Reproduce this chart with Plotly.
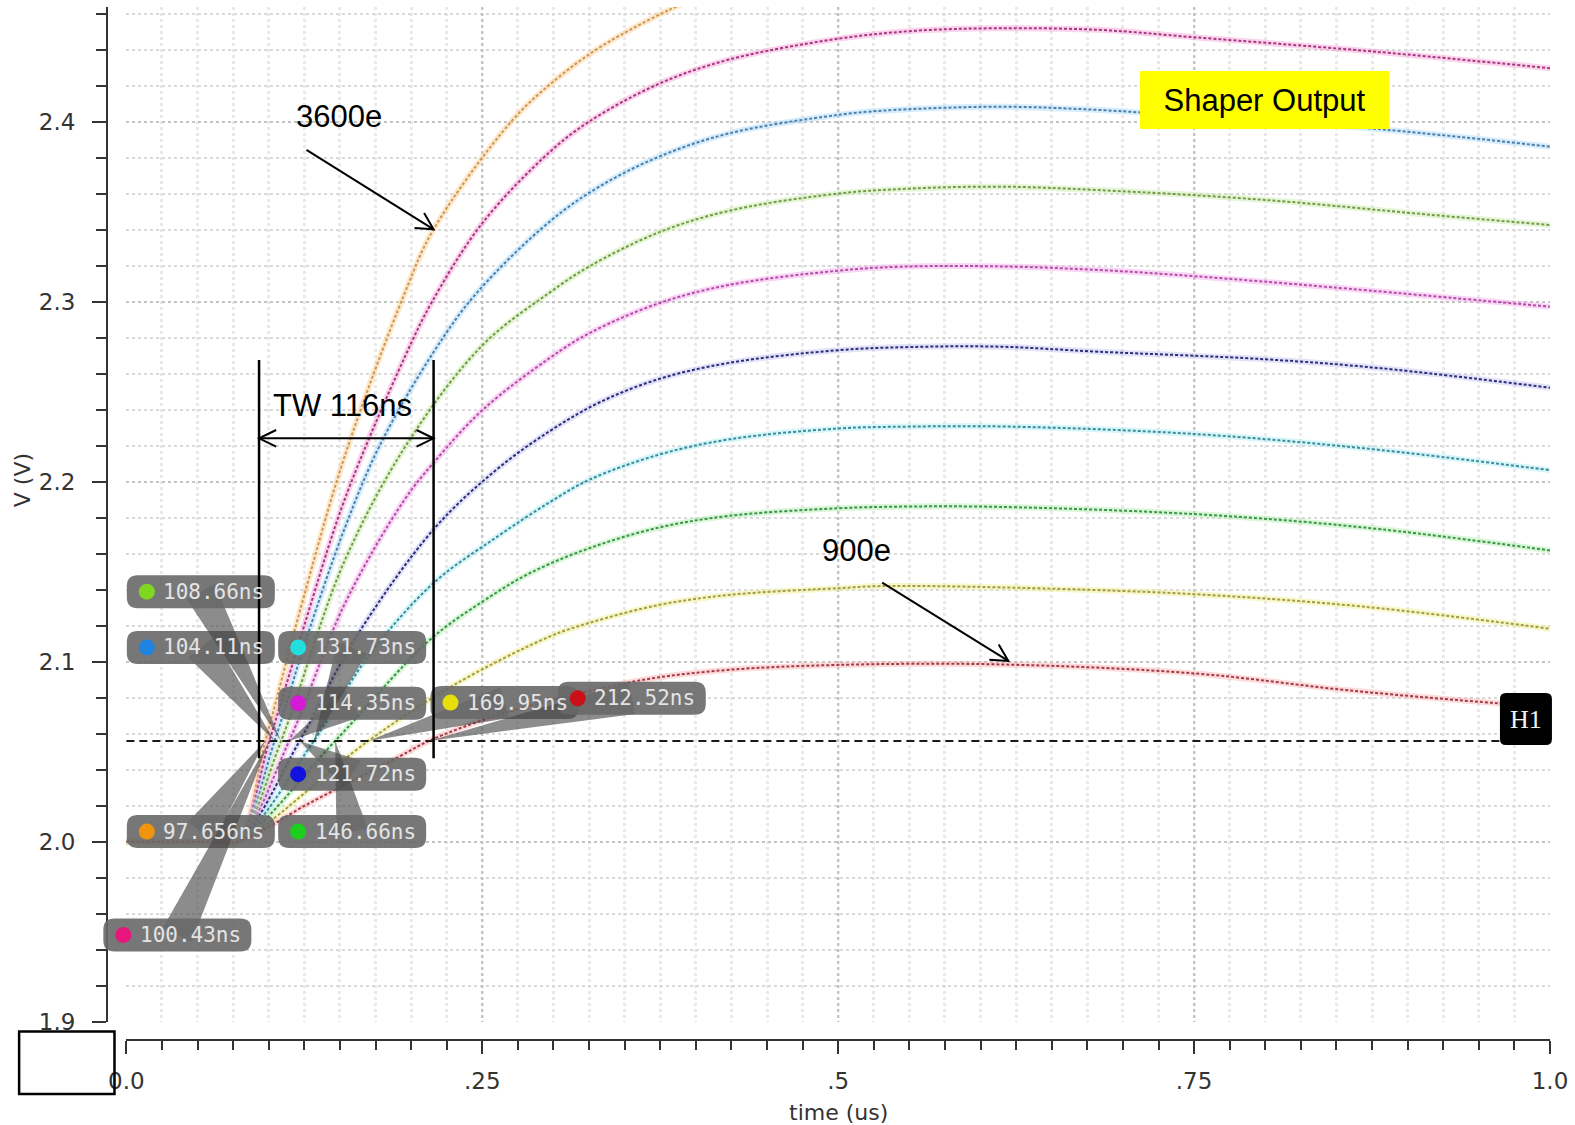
import math
import plotly.graph_objects as go

# ---------------------------------------------------------------------------
# Shaper output transients, one per injected charge (time in us, output in V)
# ---------------------------------------------------------------------------
charges = ["3600e", "3300e", "3000e", "2700e", "2400e", "2100e", "1800e", "1500e", "1200e", "900e"]

t_3600 = [0, 0.06, 0.078, 0.1253, 0.1533, 0.1954, 0.2158, 0.2714, 0.3041, 0.33, 0.355, 0.381, 0.40]
v_3600 = [2.0, 2.0, 2.0, 2.138, 2.214, 2.3045, 2.3402, 2.401, 2.425, 2.440, 2.4515, 2.462, 2.4685]

t_3300 = [0, 0.06, 0.078, 0.1253, 0.1533, 0.1954, 0.2153, 0.2504, 0.2972, 0.325, 0.374, 0.4234, 0.4994, 0.5544, 0.6128, 0.683, 0.75, 0.877, 1.0]
v_3300 = [2.0, 2.0, 2.0, 2.121, 2.190, 2.269, 2.3008, 2.344, 2.383, 2.400, 2.421, 2.4345, 2.446, 2.4505, 2.4519, 2.451, 2.4469, 2.4389, 2.4297]

t_3000 = [0, 0.06, 0.078, 0.1253, 0.1533, 0.1779, 0.2158, 0.2457, 0.2972, 0.3322, 0.3743, 0.4234, 0.4994, 0.531, 0.6128, 0.683, 0.75, 0.886, 1.0]
v_3000 = [2.0, 2.0, 2.0, 2.110, 2.174, 2.220, 2.272, 2.3045, 2.3444, 2.3639, 2.3806, 2.3935, 2.4037, 2.4061, 2.4083, 2.4065, 2.403, 2.3954, 2.3861]

t_2700 = [0, 0.06, 0.078, 0.1533, 0.1989, 0.2504, 0.2972, 0.325, 0.374, 0.4234, 0.4994, 0.55, 0.6128, 0.683, 0.80, 0.917, 1.0]
v_2700 = [2.0, 2.0, 2.0, 2.156, 2.2232, 2.276, 2.305, 2.3195, 2.3385, 2.3505, 2.360, 2.3628, 2.3639, 2.362, 2.3565, 2.3482, 2.3426]

t_2400 = [0, 0.06, 0.078, 0.1533, 0.1954, 0.2158, 0.2504, 0.2972, 0.325, 0.374, 0.4234, 0.4994, 0.5427, 0.6128, 0.683, 0.753, 0.8465, 1.0]
v_2400 = [2.0, 2.0, 2.0, 2.132, 2.190, 2.2105, 2.240, 2.2686, 2.2824, 2.2991, 2.3093, 2.3172, 2.3194, 2.3196, 2.3176, 2.314, 2.308, 2.2972]

t_2100 = [0, 0.06, 0.078, 0.16, 0.2158, 0.2597, 0.2972, 0.3322, 0.374, 0.4234, 0.4994, 0.55, 0.6128, 0.683, 0.80, 0.8815, 1.0]
v_2100 = [2.0, 2.0, 2.0, 2.112, 2.1735, 2.2065, 2.228, 2.244, 2.257, 2.266, 2.273, 2.2748, 2.275, 2.2722, 2.268, 2.263, 2.2522]

t_1800 = [0, 0.06, 0.078, 0.17, 0.2155, 0.2597, 0.2972, 0.325, 0.374, 0.4234, 0.4994, 0.55, 0.62, 0.75, 0.87, 1.0]
v_1800 = [2.0, 2.0, 2.0, 2.103, 2.1435, 2.169, 2.1885, 2.201, 2.215, 2.2235, 2.2295, 2.2306, 2.2306, 2.2265, 2.2185, 2.2064]

t_1500 = [0, 0.06, 0.078, 0.213, 0.2504, 0.283, 0.325, 0.374, 0.4234, 0.4994, 0.55, 0.6128, 0.75, 0.87, 1.0]
v_1500 = [2.0, 2.0, 2.0, 2.112, 2.1335, 2.149, 2.163, 2.1745, 2.181, 2.1852, 2.1862, 2.186, 2.182, 2.1745, 2.1618]

t_1200 = [0, 0.06, 0.078, 0.23, 0.2972, 0.325, 0.374, 0.4234, 0.4994, 0.531, 0.6128, 0.75, 0.87, 1.0]
v_1200 = [2.0, 2.0, 2.0, 2.087, 2.1139, 2.1215, 2.1315, 2.1371, 2.1408, 2.142, 2.1413, 2.1375, 2.1305, 2.1183]

t_900 = [0, 0.06, 0.078, 0.13, 0.192, 0.2597, 0.3135, 0.3673, 0.4234, 0.4994, 0.6128, 0.75, 0.8583, 0.9636, 1.0]
v_900 = [2.0, 2.0, 2.0, 2.022, 2.0474, 2.070, 2.0815, 2.0905, 2.0955, 2.0982, 2.0985, 2.0935, 2.0841, 2.0769, 2.075]

# threshold (H1) crossing times reported by the markers, in ns
cross_ns = [97.656, 100.43, 104.11, 108.66, 114.35, 121.72, 131.73, 146.66, 169.95, 212.52]
cross_text = ["97.656ns", "100.43ns", "104.11ns", "108.66ns", "114.35ns",
              "121.72ns", "131.73ns", "146.66ns", "169.95ns", "212.52ns"]
threshold_v = 2.056

# trace styling: dotted core colour, halo colour, marker dot colour
core_colors = ["#c89a5a", "#a8387e", "#4f7fa6", "#76994a", "#b24ea6",
               "#2e2e78", "#3f8b9a", "#3c9448", "#a39c48", "#a23a4a"]
halo_colors = ["rgba(255,205,140,0.45)", "rgba(245,160,215,0.45)", "rgba(165,215,250,0.45)",
               "rgba(195,235,165,0.45)", "rgba(245,165,235,0.45)", "rgba(190,190,240,0.45)",
               "rgba(165,235,245,0.45)", "rgba(170,235,170,0.45)", "rgba(240,240,150,0.5)",
               "rgba(250,175,175,0.45)"]
dot_colors = ["#f0940e", "#e8157d", "#1e84e0", "#80d620", "#d41ad4",
              "#1212e0", "#22dede", "#1ccf1c", "#e8de0a", "#cc1018"]

# marker label anchors (centre of each readout, time us / volts)
label_t = [0.0523, 0.0358, 0.0523, 0.0523, 0.1586, 0.1586, 0.1586, 0.1586, 0.2656, 0.3550]
label_v = [2.0056, 1.9482, 2.1079, 2.1389, 2.0769, 2.0375, 2.1079, 2.0056, 2.0773, 2.0797]

series_t = [t_3600, t_3300, t_3000, t_2700, t_2400, t_2100, t_1800, t_1500, t_1200, t_900]
series_v = [v_3600, v_3300, v_3000, v_2700, v_2400, v_2100, v_1800, v_1500, v_1200, v_900]

# ---------------------------------------------------------------------------
# Geometry of the canvas
# ---------------------------------------------------------------------------
W, H = 1575, 1125
M_L, M_R, M_T, M_B = 107, 23, 7, 85
X_RANGE = [0.0, 1.0]
Y_RANGE = [1.9, 2.4637]
GAP_X, GAP_Y = 19.4, 18.3          # offset of the axis lines from the grid area
paper_w = W - M_L - M_R
paper_h = H - M_T - M_B
x_dom0 = GAP_X / paper_w
y_dom0 = GAP_Y / paper_h
PX_T = paper_w * (1 - x_dom0) / (X_RANGE[1] - X_RANGE[0])
PX_V = paper_h * (1 - y_dom0) / (Y_RANGE[1] - Y_RANGE[0])


def px(t):
    """time (us) -> paper fraction"""
    return x_dom0 + (t - X_RANGE[0]) / (X_RANGE[1] - X_RANGE[0]) * (1 - x_dom0)


def py(v):
    """volts -> paper fraction"""
    return y_dom0 + (v - Y_RANGE[0]) / (Y_RANGE[1] - Y_RANGE[0]) * (1 - y_dom0)


def note(x, y, text, font, **kw):
    d = dict(x=x, y=y, xref="paper", yref="paper", showarrow=False, text=text,
             xanchor="center", yanchor="middle", font=font)
    d.update(kw)
    return d


fig = go.Figure()

for i in range(len(charges)):
    # merge the marker crossing point into the sampled curve
    pts = sorted(zip(series_t[i] + [cross_ns[i] / 1000.0], series_v[i] + [threshold_v]))
    ts = [p[0] for p in pts]
    vs = [p[1] for p in pts]
    fig.add_trace(go.Scatter(x=ts, y=vs, mode="lines", hoverinfo="skip", showlegend=False,
                             line=dict(color=halo_colors[i], width=6, shape="spline", smoothing=1.0)))
    fig.add_trace(go.Scatter(x=ts, y=vs, mode="lines", name=charges[i], showlegend=False,
                             line=dict(color=core_colors[i], width=2, dash="3px,2px",
                                       shape="spline", smoothing=1.0)))

shapes = []
annotations = []

# threshold line H1
shapes.append(dict(type="line", xref="paper", yref="paper", x0=px(0), x1=px(0.965),
                   y0=py(threshold_v), y1=py(threshold_v),
                   line=dict(color="#1a1a1a", width=2, dash="8px,5px"), layer="above"))


def rounded_box(w, h, r):
    a, b = w / 2.0, h / 2.0
    return (f"M {-a + r},{b} L {a - r},{b} Q {a},{b} {a},{b - r} L {a},{-b + r} "
            f"Q {a},{-b} {a - r},{-b} L {-a + r},{-b} Q {-a},{-b} {-a},{-b + r} "
            f"L {-a},{b - r} Q {-a},{b} {-a + r},{b} Z")


def pixel_shape(t, v, **kw):
    d = dict(xref="paper", yref="paper", xsizemode="pixel", ysizemode="pixel",
             xanchor=px(t), yanchor=py(v), layer="above")
    d.update(kw)
    return d


readout_font = dict(family="DejaVu Sans Mono", size=21, color="#e4e4e4")
BOX_W, BOX_H, HALF_WEDGE = 148, 33, 16
for i in range(len(charges)):
    tc = cross_ns[i] / 1000.0
    dx = (label_t[i] - tc) * PX_T
    dy = (label_v[i] - threshold_v) * PX_V
    d = math.hypot(dx, dy)
    nx, ny = -dy / d * HALF_WEDGE, dx / d * HALF_WEDGE
    shapes.append(pixel_shape(tc, threshold_v, type="path",
                              path=f"M 0,0 L {dx + nx:.1f},{dy + ny:.1f} L {dx - nx:.1f},{dy - ny:.1f} Z",
                              fillcolor="rgba(70,70,70,0.62)", line=dict(width=0)))
    shapes.append(pixel_shape(label_t[i], label_v[i], type="path", path=rounded_box(BOX_W, BOX_H, 11),
                              fillcolor="rgba(104,104,104,0.9)", line=dict(width=0)))
    shapes.append(pixel_shape(label_t[i], label_v[i], type="circle",
                              x0=-BOX_W / 2 + 12, x1=-BOX_W / 2 + 28, y0=-8, y1=8,
                              fillcolor=dot_colors[i], line=dict(width=0)))
    annotations.append(note(px(label_t[i]), py(label_v[i]), cross_text[i], readout_font, xshift=13))

# H1 tag
h1_t, h1_v = 0.9831, 2.0681
shapes.append(pixel_shape(h1_t, h1_v, type="path", path=rounded_box(52, 52, 6),
                          fillcolor="#000000", line=dict(width=0)))
annotations.append(note(px(h1_t), py(h1_v), "H1",
                        dict(family="Liberation Serif", size=26, color="#f2f2f2")))


def arrow(tail, tip, both=False, barb=19, spread=28):
    shapes.append(dict(type="line", xref="paper", yref="paper", x0=px(tail[0]), y0=py(tail[1]),
                       x1=px(tip[0]), y1=py(tip[1]),
                       line=dict(color="#000000", width=2), layer="above"))
    ends = [(tip, tail)] + ([(tail, tip)] if both else [])
    for head, back in ends:
        ux = (back[0] - head[0]) * PX_T
        uy = (back[1] - head[1]) * PX_V
        n = math.hypot(ux, uy)
        ux, uy = ux / n, uy / n
        pts = []
        for s in (spread, -spread):
            a = math.radians(s)
            pts.append((barb * (ux * math.cos(a) - uy * math.sin(a)),
                        barb * (ux * math.sin(a) + uy * math.cos(a))))
        shapes.append(pixel_shape(head[0], head[1], type="path",
                                  path=f"M {pts[0][0]:.1f},{pts[0][1]:.1f} L 0,0 L {pts[1][0]:.1f},{pts[1][1]:.1f}",
                                  line=dict(color="#000000", width=2)))


label_font = dict(family="Liberation Sans", size=31, color="#000000")

# timewalk bracket
tw_left, tw_right = 0.0932, 0.2158
for tx in (tw_left, tw_right):
    shapes.append(dict(type="line", xref="paper", yref="paper", x0=px(tx), x1=px(tx),
                       y0=py(2.0463), y1=py(2.2676),
                       line=dict(color="#000000", width=2.5), layer="above"))
arrow((tw_left, 2.2241), (tw_right, 2.2241), both=True, spread=26)
annotations.append(note(px(0.1515), py(2.2424), "TW 116ns", label_font))

# charge callouts
arrow((0.1265, 2.3843), (0.2158, 2.3402))
annotations.append(note(px(0.1491), py(2.4026), "3600e", label_font))
arrow((0.5309, 2.1439), (0.6195, 2.1004))
annotations.append(note(px(0.5127), py(2.162), "900e", label_font))

# title tag
annotations.append(note(px(0.7997), py(2.4119), "Shaper Output", label_font,
                        bgcolor="#ffff00", width=249, height=58, borderpad=0, borderwidth=0))

# axis titles
axis_title_font = dict(family="DejaVu Sans", size=22, color="#333333")
annotations.append(note((22 - M_L) / paper_w, py(2.2009), "V (V)", axis_title_font, textangle=-90))
annotations.append(note(px(0.5), (H - M_B - 1112) / paper_h, "time (us)", axis_title_font))

# outlined corner frame
shapes.append(dict(type="rect", xref="paper", yref="paper",
                   x0=(19 - M_L) / paper_w, x1=(114.5 - M_L) / paper_w,
                   y0=(H - M_B - 1094) / paper_h, y1=(H - M_B - 1031.6) / paper_h,
                   fillcolor="rgba(0,0,0,0)", line=dict(color="#000000", width=2.5), layer="above"))

y_ticks = [1.9, 2.0, 2.1, 2.2, 2.3, 2.4]
y_tick_text = ["1.9", "2.0", "2.1", "2.2", "2.3", "2.4"]
x_ticks = [0.0, 0.25, 0.5, 0.75, 1.0]
x_tick_text = ["0.0", ".25", ".5", ".75", "1.0"]

tick_font = dict(family="DejaVu Sans", size=23, color="#333333")

fig.update_layout(
    width=W, height=H,
    margin=dict(l=M_L, r=M_R, t=M_T, b=M_B, pad=0),
    paper_bgcolor="#ffffff", plot_bgcolor="#ffffff",
    showlegend=False,
    shapes=shapes, annotations=annotations,
    xaxis=dict(range=X_RANGE, domain=[x_dom0, 1], anchor="free", position=0,
               tickmode="array", tickvals=x_ticks, ticktext=x_tick_text,
               ticks="outside", ticklen=13, tickwidth=2, tickcolor="#333333",
               ticklabelstandoff=7, tickfont=tick_font,
               showline=True, linecolor="#333333", linewidth=2, zeroline=False,
               showgrid=True, gridcolor="#c4c4c4", gridwidth=1.5, griddash="dot",
               minor=dict(tick0=0, dtick=0.025, ticks="outside", ticklen=9, tickwidth=2,
                          tickcolor="#333333", showgrid=True, gridcolor="#e9e9e9", gridwidth=2.5)),
    yaxis=dict(range=Y_RANGE, domain=[y_dom0, 1], anchor="free", position=0,
               tickmode="array", tickvals=y_ticks, ticktext=y_tick_text,
               ticks="outside", ticklen=14, tickwidth=2, tickcolor="#333333",
               ticklabelstandoff=12, tickfont=tick_font,
               showline=True, linecolor="#333333", linewidth=2, zeroline=False,
               showgrid=True, gridcolor="#c4c4c4", gridwidth=1.5, griddash="dot",
               minor=dict(tick0=1.9, dtick=0.02, ticks="outside", ticklen=10, tickwidth=2,
                          tickcolor="#333333", showgrid=True, gridcolor="#d9d9d9", gridwidth=1.5,
                          griddash="dot")),
)

fig.write_html("out.html")
